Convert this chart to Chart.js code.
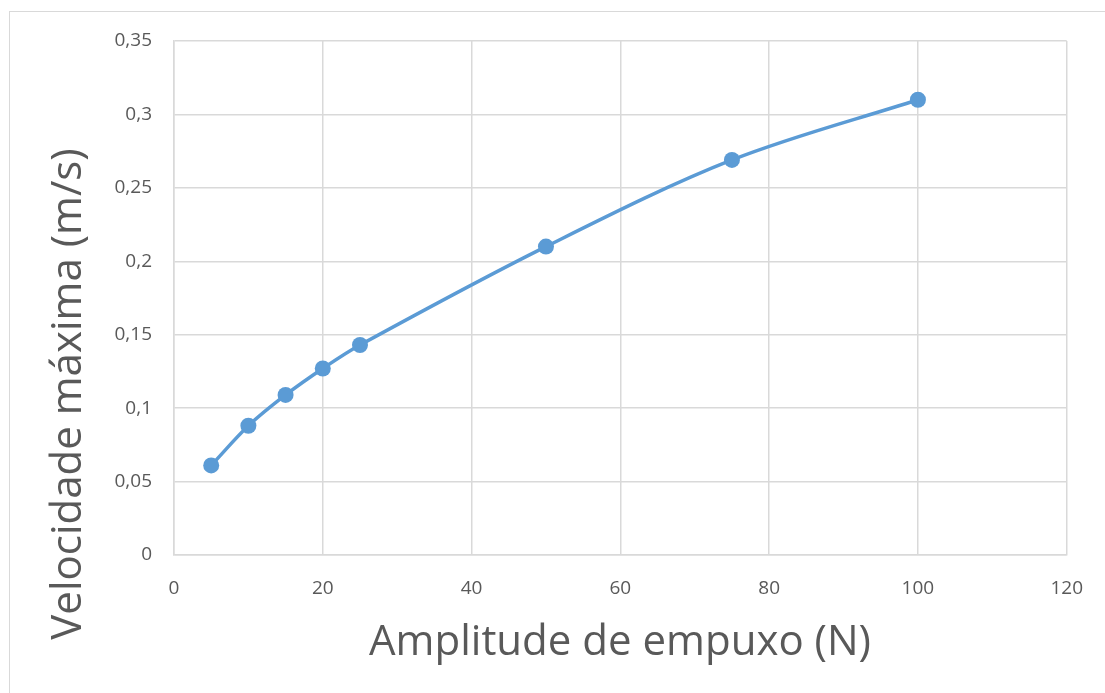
<!DOCTYPE html>
<html>
<head>
<meta charset="utf-8">
<script src="https://cdn.jsdelivr.net/npm/chart.js@4/dist/chart.umd.min.js"></script>
<style>
  html, body { margin: 0; padding: 0; background: #fff; overflow: hidden; }
  #frame { position: absolute; left: 9px; top: 11px; width: 1300px; height: 900px; border: 1px solid #d9d9d9; }
  #wrap { position: absolute; left: 0; top: 0; width: 1105px; height: 693px; }
</style>
</head>
<body>
<div id="frame"></div>
<div id="wrap"><canvas id="chart" width="1105" height="693"></canvas></div>
<script>
// data
const amplitude = [5, 10, 15, 20, 25, 50, 75, 100];
const velocidade = [0.061, 0.088, 0.109, 0.127, 0.143, 0.210, 0.269, 0.310];
const xTicks = [0, 20, 40, 60, 80, 100, 120];
const yTicks = [0, 0.05, 0.1, 0.15, 0.2, 0.25, 0.3, 0.35];
const xTitle = 'Amplitude de empuxo (N)';
const yTitle = 'Velocidade máxima (m/s)';

const INK  = '#595959';
const GRID = '#d9d9d9';
const BLUE = '#5b9bd5';
const FONT = "'Open Sans', 'DejaVu Sans', sans-serif";

const fmt = v => String(Math.round(v * 100) / 100).replace('.', ',');

// axis titles placed like the spreadsheet did (centred on chart, not plot)
const titles = {
  id: 'titles',
  afterDraw(chart) {
    const ctx = chart.ctx;
    ctx.save();
    ctx.fillStyle = INK;
    ctx.font = `42px ${FONT}`;
    ctx.textAlign = 'center';
    ctx.textBaseline = 'alphabetic';
    ctx.fillText(xTitle, 620, 655);
    ctx.translate(81, 394);
    ctx.rotate(-Math.PI / 2);
    ctx.fillText(yTitle, 0, 0);
    ctx.restore();
  }
};

new Chart(document.getElementById('chart'), {
  type: 'scatter',
  data: {
    datasets: [{
      data: amplitude.map((x, i) => ({ x, y: velocidade[i] })),
      showLine: true,
      borderColor: BLUE,
      backgroundColor: BLUE,
      borderWidth: 3.5,
      tension: 0.33,
      pointRadius: 8,
      pointHoverRadius: 8,
      pointBorderWidth: 0
    }]
  },
  options: {
    responsive: false,
    animation: false,
    events: [],
    layout: { padding: { left: 0, top: 41, right: 38, bottom: 0 } },
    plugins: { legend: { display: false }, tooltip: { enabled: false } },
    scales: {
      x: {
        type: 'linear',
        min: 0, max: 120,
        afterBuildTicks: s => { s.ticks = xTicks.map(v => ({ value: v })); },
        afterFit: s => { s.height = 138; },
        grid: { color: GRID, lineWidth: 1.5, drawTicks: false },
        border: { color: GRID, width: 1.5 },
        ticks: { color: INK, font: { family: FONT, size: 19 }, padding: 22, maxRotation: 0, callback: v => fmt(v) }
      },
      y: {
        type: 'linear',
        min: 0, max: 0.35,
        afterBuildTicks: s => { s.ticks = yTicks.map(v => ({ value: v })); },
        afterFit: s => { s.width = 174; },
        grid: { color: GRID, lineWidth: 1.5, drawTicks: false },
        border: { color: GRID, width: 1.5 },
        ticks: { color: INK, font: { family: FONT, size: 19 }, padding: 22, callback: v => fmt(v) }
      }
    }
  },
  plugins: [titles]
});
</script>
</body>
</html>
